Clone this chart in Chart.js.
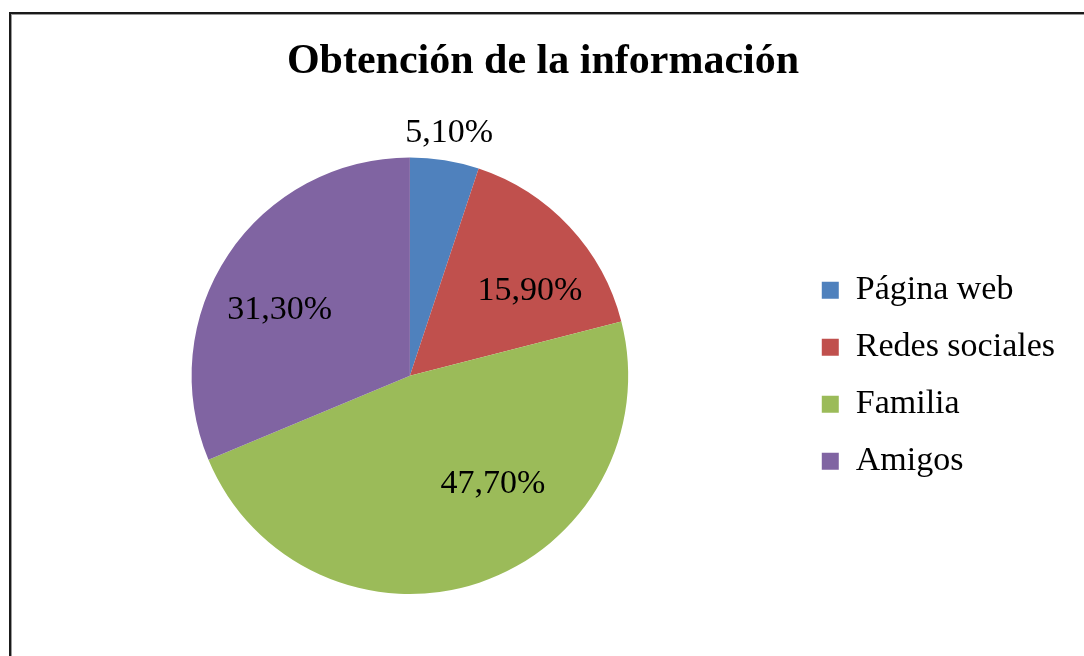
<!DOCTYPE html>
<html>
<head>
<meta charset="utf-8">
<script src="https://cdn.jsdelivr.net/npm/chart.js@4/dist/chart.umd.min.js"></script>
<style>
  html, body { margin: 0; padding: 0; background: #ffffff; }
  #wrap { position: relative; width: 1084px; height: 656px; overflow: hidden; }
  #frame { position: absolute; left: 9px; top: 12px; width: 1200px; height: 800px;
           border-left: 2px solid #1a1a1a; border-top: 2px solid #1a1a1a;
           box-shadow: inset 1px 1px 0 #9a9a9a; box-sizing: border-box; }
  canvas { position: absolute; left: 0; top: 0; }
</style>
</head>
<body>
<div id="wrap">
  <div id="frame"></div>
  <canvas id="c" width="1084" height="656"></canvas>
</div>
<script>
const chartTitle = 'Obtención de la información';
const categories = ['Página web', 'Redes sociales', 'Familia', 'Amigos'];
const percentValues = [5.1, 15.9, 47.7, 31.3];
const sliceColors = ['#4F81BD', '#C0504D', '#9BBB59', '#8064A2'];

// label placement: fraction along the arc and fraction of outer radius
const labelPlacement = [
  { t: 0.50, r: 1.127 },
  { t: 0.635, r: 0.674 },
  { t: 0.39, r: 0.625 },
  { t: 0.44, r: 0.669 }
];

const FONT = "'Liberation Serif', 'Times New Roman', serif";

const pieLabels = {
  id: 'pieLabels',
  afterDatasetsDraw(chart) {
    const ctx = chart.ctx;
    const meta = chart.getDatasetMeta(0);
    ctx.save();
    ctx.font = '34px ' + FONT;
    ctx.fillStyle = '#000000';
    ctx.textAlign = 'center';
    ctx.textBaseline = 'middle';
    meta.data.forEach((arc, i) => {
      const p = arc.getProps(['x', 'y', 'startAngle', 'endAngle', 'outerRadius'], true);
      const pl = labelPlacement[i];
      const a = p.startAngle + pl.t * (p.endAngle - p.startAngle);
      const rr = pl.r * p.outerRadius;
      const txt = percentValues[i].toFixed(2).replace('.', ',') + '%';
      ctx.fillText(txt, p.x + Math.cos(a) * rr, p.y + Math.sin(a) * rr);
    });
    ctx.restore();
  }
};

new Chart(document.getElementById('c'), {
  type: 'pie',
  data: {
    labels: categories,
    datasets: [{
      data: percentValues,
      backgroundColor: sliceColors,
      borderWidth: 0
    }]
  },
  options: {
    responsive: false,
    animation: false,
    layout: { padding: { left: 21, right: 19, top: 0, bottom: 62 } },
    plugins: {
      title: {
        display: true,
        text: chartTitle,
        color: '#000000',
        font: { family: FONT, size: 42, weight: 'bold' },
        padding: { top: 37, bottom: 70 }
      },
      legend: {
        position: 'right',
        fullSize: false,
        labels: {
          color: '#000000',
          font: { family: FONT, size: 34 },
          boxWidth: 17,
          boxHeight: 17,
          padding: 23
        }
      },
      tooltip: { enabled: false }
    }
  },
  plugins: [pieLabels]
});
</script>
</body>
</html>
